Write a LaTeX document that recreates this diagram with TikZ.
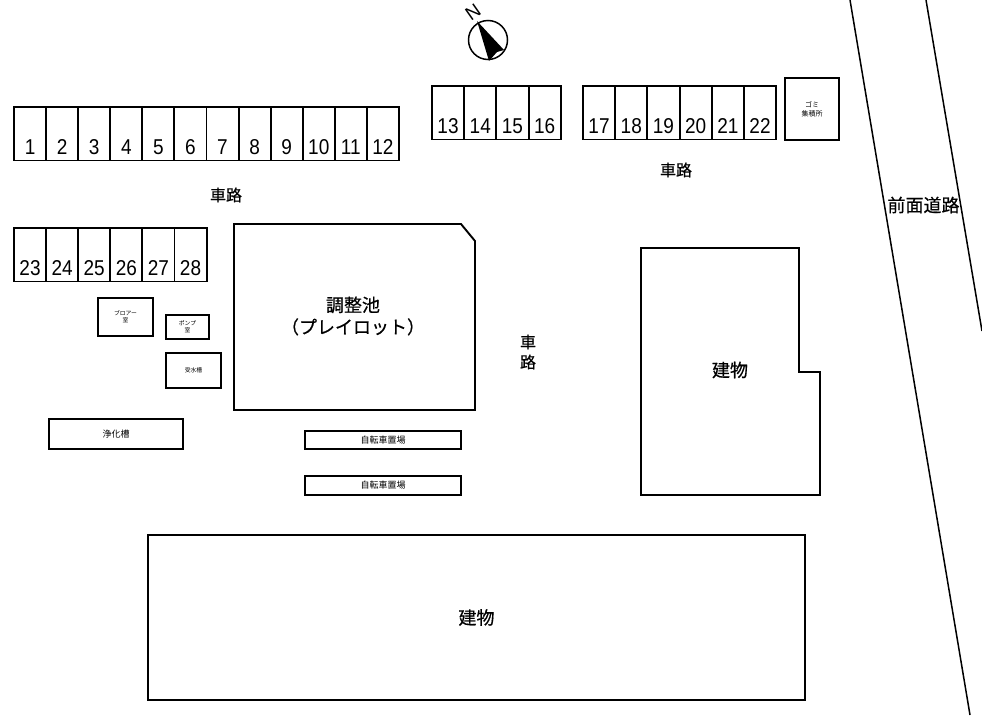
\documentclass[tikz,border=0pt]{standalone}
\usepackage{fontspec}
\setmainfont{Liberation Sans}
\newfontfamily\jpfont{Noto Sans CJK JP}
\newfontfamily\jpbold[FakeBold=0.6]{Noto Sans CJK JP}
\usetikzlibrary{calc}
\tikzset{
    plan/.style={line width=1.9pt, line join=miter},
    slotbox/.style={plan, draw, anchor=north west, minimum width=32.1pt, minimum height=53.5pt, inner sep=0pt, outer sep=0pt},
    slotnum/.style={anchor=south, inner sep=0pt, yshift=6pt, yscale=1.13, transform shape, font=\fontsize{19}{19}\selectfont},
    roombox/.style={plan, draw, anchor=north west, inner sep=0pt, outer sep=0pt, align=center},
    tiny label/.style={font=\jpfont\fontsize{5.8}{7}\selectfont},
    small label/.style={font=\jpfont\fontsize{9}{10}\selectfont},
    big label/.style={font=\jpbold\fontsize{18}{22}\selectfont, align=center, inner sep=0pt},
    road label/.style={font=\jpbold\fontsize{16}{20}\selectfont, align=center, inner sep=0pt},
}
\begin{document}
\begin{tikzpicture}[x=1pt,y=-1pt]

    \useasboundingbox (0,0) rectangle (982,715);

    % parking rows
    \foreach \n [count=\i from 0] in {1,...,12} {
        \node[slotbox] (slot\n) at ({14+32.08*\i},107) {};
        \node[slotnum] (num\n) at (slot\n.south) {\n};
    }
    \foreach \n [count=\i from 0] in {13,...,16} {
        \node[slotbox] (slot\n) at ({432+32.2*\i},86) {};
        \node[slotnum] (num\n) at (slot\n.south) {\n};
    }
    \foreach \n [count=\i from 0] in {17,...,22} {
        \node[slotbox] (slot\n) at ({583+32.2*\i},86) {};
        \node[slotnum] (num\n) at (slot\n.south) {\n};
    }
    \foreach \n [count=\i from 0] in {23,...,28} {
        \node[slotbox] (slot\n) at ({14+32.1*\i},228) {};
        \node[slotnum] (num\n) at (slot\n.south) {\n};
    }

    % small rooms
    \node[roombox, font=\jpfont\fontsize{7}{9}\selectfont, minimum width=54pt, minimum height=62pt] (gomi) at (785,78) {ゴミ\\集積所};
    \node[roombox, tiny label, minimum width=55pt, minimum height=38pt] (blower) at (98,298) {ブロアー\\室};
    \node[roombox, tiny label, minimum width=43pt, minimum height=24pt] (pump) at (166,315) {ポンプ\\室};
    \node[roombox, tiny label, minimum width=55pt, minimum height=35pt] (tank) at (166,353) {受水槽};
    \node[roombox, small label, minimum width=134pt, minimum height=30pt] (septic) at (49,419) {浄化槽};
    \node[roombox, small label, minimum width=156pt, minimum height=18pt] (bike1) at (305,431) {自転車置場};
    \node[roombox, small label, minimum width=156pt, minimum height=19pt] (bike2) at (305,476) {自転車置場};
    \node[roombox, big label, minimum width=657pt, minimum height=165pt] (lower) at (148,535) {建物};

    % pond and upper building
    \draw[plan] (234,224) -- (461,224) -- (475,241) -- (475,410) -- (234,410) -- cycle;
    \node[big label] (pond) at (353,316) {調整池\\（プレイロット）};
    \draw[plan] (641,248) -- (799,248) -- (799,372) -- (820,372) -- (820,495) -- (641,495) -- cycle;
    \node[big label] (upper) at (730,370) {建物};

    % road edges
    \coordinate (roadA) at (850,0);
    \coordinate (roadB) at (970,715);
    \coordinate (roadC) at (926,0);
    \coordinate (roadD) at (982,331);
    \draw[line width=1.5pt] (roadA) -- (roadB);
    \draw[line width=1.5pt] (roadC) -- (roadD);

    % road labels
    \node[road label] (road1) at (226,195) {車路};
    \node[road label] (road2) at (676,170) {車路};
    \node[road label] (road3) at (528,352) {車\\路};
    \node[big label] (front) at (923.5,205) {前面道路};

    % compass
    \node[draw, circle, line width=1.5pt, minimum size=39pt, inner sep=0pt] (compass) at (488,40) {};
    \fill (477,21) -- (504,50) -- (497,52) -- (489,61) -- cycle;
    \node[rotate=35, inner sep=0pt, font=\fontsize{19}{19}\selectfont] (north) at (473,12) {N};

\end{tikzpicture}
\end{document}
